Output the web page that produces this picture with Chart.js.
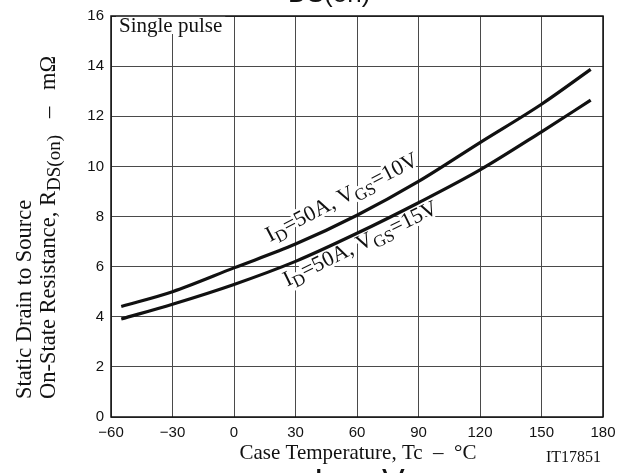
<!DOCTYPE html>
<html><head><meta charset="utf-8">
<script src="https://cdn.jsdelivr.net/npm/chart.js@4/dist/chart.umd.min.js"></script>
<style>html,body{margin:0;padding:0;background:#fff}canvas{display:block}</style>
</head><body>
<canvas id="c" width="626" height="473"></canvas>
<script>
// ---- data ----
const temps     = [-55, -30, 0, 30, 60, 90, 120, 150, 174];
const rdsVgs10  = [4.41, 5.00, 5.95, 6.90, 8.05, 9.40, 10.95, 12.48, 13.87];
const rdsVgs15  = [3.91, 4.50, 5.29, 6.21, 7.33, 8.55, 9.86, 11.38, 12.64];
const xTicks    = [-60, -30, 0, 30, 60, 90, 120, 150, 180];
const yTicks    = [0, 2, 4, 6, 8, 10, 12, 14, 16];
const label10   = [['I',0],['D',1],['=50A, V',0],['GS',1],['=10V',0]];
const label15   = [['I',0],['D',1],['=50A, V',0],['GS',1],['=15V',0]];
const yTitle1   = [['Static Drain to Source',0]];
const yTitle2   = [['On-State Resistance, R',0],['DS(on)',1],['   \u2013   m\u03A9',0]];
const xTitle    = 'Case Temperature, Tc  \u2013  \u00B0C';
const figId     = 'IT17851';
const noteText  = 'Single pulse';

const SERIF = '"Liberation Serif","Times New Roman",serif';
const SANS  = '"Liberation Sans",Arial,sans-serif';

function rich(ctx, segs, x, y, ang, size, subSize, subDrop, halo){
  ctx.save();
  ctx.translate(x, y);
  ctx.rotate(ang);
  ctx.textBaseline = 'alphabetic';
  ctx.textAlign = 'left';
  const passes = halo ? ['stroke','fill'] : ['fill'];
  for (const p of passes){
    let cx = 0;
    for (const [t, sub] of segs){
      ctx.font = (sub ? subSize : size) + 'px ' + SERIF;
      const dy = sub ? subDrop : 0;
      if (p === 'stroke'){
        ctx.strokeStyle = '#fff'; ctx.lineWidth = 6; ctx.lineJoin = 'round';
        ctx.strokeText(t, cx, dy);
      } else {
        ctx.fillStyle = '#111';
        ctx.fillText(t, cx, dy);
      }
      cx += ctx.measureText(t).width;
    }
  }
  ctx.restore();
}

const decor = {
  id: 'decor',
  beforeDatasetsDraw(chart){
    const {ctx, scales:{x, y}} = chart;
    ctx.save();
    ctx.font = '21px ' + SERIF;
    const w = ctx.measureText(noteText).width;
    ctx.fillStyle = '#fff';
    ctx.fillRect(116, 16, w + 6, 18);
    ctx.fillStyle = '#111';
    ctx.textBaseline = 'alphabetic';
    ctx.fillText(noteText, 119, 32);
    ctx.restore();
    const deg = Math.PI / 180;
    rich(ctx, label10, x.getPixelForValue(17.5), y.getPixelForValue(6.98), -27.5*deg, 22, 17, 5, true);
    rich(ctx, label15, x.getPixelForValue(26.0), y.getPixelForValue(5.21), -26*deg, 22, 17, 5, true);
  },
  afterDraw(chart){
    const {ctx, chartArea:a} = chart;
    ctx.save();
    ctx.strokeStyle = '#111';
    ctx.lineWidth = 1.5;
    ctx.strokeRect(a.left, a.top, a.right - a.left, a.bottom - a.top);
    ctx.restore();
    rich(ctx, yTitle1, 31, 399, -Math.PI/2, 22.5, 19, 5, false);
    rich(ctx, yTitle2, 55, 399, -Math.PI/2, 22.5, 19, 5, false);
    ctx.save();
    ctx.fillStyle = '#111';
    ctx.textBaseline = 'alphabetic';
    ctx.textAlign = 'center';
    ctx.font = '21px ' + SERIF;
    ctx.fillText(xTitle, 358, 459);
    ctx.textAlign = 'left';
    ctx.font = '16px ' + SERIF;
    ctx.fillText(figId, 546, 462);
    // clipped fragments of neighbouring captions
    ctx.font = '26px ' + SANS;
    ctx.fillText('DS(on)', 288, 2);
    ctx.font = '34px ' + SANS;
    ctx.fillText('I', 314, 492);
    ctx.fillText('V', 382, 492);
    ctx.restore();
  }
};

const minus = v => v < 0 ? '\u2212' + Math.abs(v) : String(v);

new Chart(document.getElementById('c').getContext('2d'), {
  type: 'line',
  data: {
    datasets: [
      { label: 'ID=50A, VGS=10V', data: temps.map((t,i)=>({x:t, y:rdsVgs10[i]})),
        borderColor:'#111', borderWidth:3.2, pointRadius:0, fill:false, cubicInterpolationMode:'monotone' },
      { label: 'ID=50A, VGS=15V', data: temps.map((t,i)=>({x:t, y:rdsVgs15[i]})),
        borderColor:'#111', borderWidth:3.2, pointRadius:0, fill:false, cubicInterpolationMode:'monotone' }
    ]
  },
  options: {
    responsive:false, animation:false, devicePixelRatio:1,
    layout:{ padding:{ left:0, right:23, top:11, bottom:0 } },
    plugins:{ legend:{display:false}, tooltip:{enabled:false}, title:{display:false} },
    scales:{
      x:{
        type:'linear', min:-60, max:180,
        afterBuildTicks: s => { s.ticks = xTicks.map(v => ({value:v})); },
        afterFit: s => { s.height = 56; },
        grid:{ color:'#4a4a4a', lineWidth:1, drawTicks:false },
        border:{ display:false },
        ticks:{ padding:7, color:'#111', font:{family:SANS, size:15}, maxRotation:0, callback: v => minus(v) }
      },
      y:{
        type:'linear', min:0, max:16,
        afterBuildTicks: s => { s.ticks = yTicks.map(v => ({value:v})); },
        afterFit: s => { s.width = 111; },
        grid:{ color:'#4a4a4a', lineWidth:1, drawTicks:false },
        border:{ display:false },
        ticks:{ padding:7, color:'#111', font:{family:SANS, size:15}, callback: v => String(v) }
      }
    }
  },
  plugins:[decor]
});
</script>
</body></html>
